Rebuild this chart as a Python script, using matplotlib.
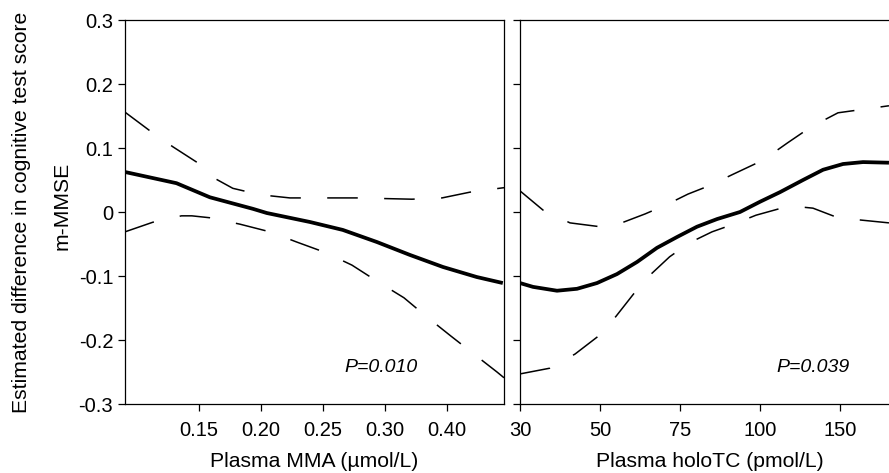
import numpy as np
import matplotlib
matplotlib.use("Agg")
import matplotlib.pyplot as plt

plt.rcParams["font.family"] = ["Liberation Sans", "DejaVu Sans"]
plt.rcParams["lines.scale_dashes"] = False

# --- data ---
# left panel: plasma MMA (umol/L)
mma_x = [0.0905, 0.132, 0.1589, 0.1935, 0.2048, 0.2395, 0.266, 0.2935, 0.340, 0.3935, 0.448, 0.490]
mma_est = [0.0625, 0.045, 0.023, 0.005, -0.0016, -0.0156, -0.028, -0.0469, -0.067, -0.0859, -0.1016, -0.111]
mma_up_x = [0.0905, 0.1105, 0.129, 0.149, 0.1605, 0.1774, 0.1992, 0.2234, 0.250, 0.2774, 0.3435, 0.392, 0.437, 0.4919]
mma_up = [0.156, 0.127, 0.102, 0.077, 0.055, 0.037, 0.027, 0.022, 0.022, 0.022, 0.020, 0.022, 0.031, 0.038]
mma_lo_x = [0.0905, 0.1129, 0.136, 0.1444, 0.1589, 0.1831, 0.2073, 0.2290, 0.2516, 0.2734, 0.2935, 0.3306, 0.3677, 0.4065, 0.4435, 0.4806, 0.4919]
mma_lo = [-0.031, -0.016, -0.006, -0.006, -0.009, -0.019, -0.031, -0.047, -0.063, -0.083, -0.108, -0.134, -0.164, -0.194, -0.222, -0.250, -0.259]
mma_ticks = [0.15, 0.20, 0.25, 0.30, 0.40]
mma_ticklabels = ["0.15", "0.20", "0.25", "0.30", "0.40"]

# right panel: plasma holoTC (pmol/L)
htc_x = [30, 33.25, 39.25, 44.25, 49.25, 55.3, 61.6, 67.8, 74.1, 80.3, 86.6, 93.75, 100, 112.5, 126.9, 139.4, 151.9, 164.4, 180.6]
htc_est = [-0.111, -0.117, -0.123, -0.120, -0.111, -0.097, -0.078, -0.056, -0.039, -0.023, -0.011, 0.000, 0.016, 0.031, 0.050, 0.066, 0.075, 0.078, 0.077]
htc_up_x = [30, 35.75, 42.5, 50, 56.75, 64.1, 70.6, 77.5, 84.1, 91.6, 101.9, 117.2, 131.9, 148.75, 180.6]
htc_up = [0.033, 0.003, -0.017, -0.023, -0.017, -0.003, 0.011, 0.028, 0.041, 0.059, 0.081, 0.108, 0.133, 0.155, 0.166]
htc_lo_x = [30, 37.5, 43.75, 50, 55, 60.5, 65.75, 71.75, 78, 85, 91.75, 98.75, 111.9, 125, 133.1, 148.75, 180.6]
htc_lo = [-0.253, -0.244, -0.222, -0.192, -0.163, -0.128, -0.098, -0.070, -0.048, -0.031, -0.019, -0.005, 0.005, 0.008, 0.006, -0.009, -0.017]
htc_ticks = [30, 50, 75, 100, 150]
htc_ticklabels = ["30", "50", "75", "100", "150"]

yticks = [0.3, 0.2, 0.1, 0, -0.1, -0.2, -0.3]
yticklabels = ["0.3", "0.2", "0.1", "0", "-0.1", "-0.2", "-0.3"]


def make_scale(vals, pos):
    fwd = lambda x: np.interp(x, vals, pos, left=np.nan, right=np.nan)
    inv = lambda u: np.interp(u, pos, vals, left=np.nan, right=np.nan)
    return fwd, inv


# ticks are evenly spaced on the original axes
mma_scale = make_scale([0.0, 0.15, 0.20, 0.25, 0.30, 0.40, 0.60], [-3, 0, 1, 2, 3, 4, 6])
htc_scale = make_scale([0, 30, 50, 75, 100, 150, 250], [-1.5, 0, 1, 2, 3, 4, 6])

fig = plt.figure(figsize=(8.89, 4.73), dpi=100)
ax1 = fig.add_axes([125 / 889, 69 / 473, 379 / 889, 384 / 473])
ax2 = fig.add_axes([520 / 889, 69 / 473, 380 / 889, 384 / 473])

dash = (0, (22, 19))
lw_s, lw_d = 2.7, 1.1

ax1.set_xscale("function", functions=mma_scale)
ax1.plot(mma_x, mma_est, color="black", lw=lw_s, solid_capstyle="butt", solid_joinstyle="round")
ax1.plot(mma_up_x, mma_up, color="black", lw=lw_d, linestyle=dash)
ax1.plot(mma_lo_x, mma_lo, color="black", lw=lw_d, linestyle=dash)
ax1.set_xlim(0.0905, 0.4919)
ax1.set_xticks(mma_ticks)
ax1.set_xticklabels(mma_ticklabels)
ax1.set_xlabel("Plasma MMA (µmol/L)", fontsize=15.2, labelpad=9)
ax1.text(0.297, -0.243, "P=0.010", fontsize=14, style="italic", ha="center", va="center")

ax2.set_xscale("function", functions=htc_scale)
ax2.plot(htc_x, htc_est, color="black", lw=lw_s, solid_capstyle="butt", solid_joinstyle="round")
ax2.plot(htc_up_x, htc_up, color="black", lw=lw_d, linestyle=dash)
ax2.plot(htc_lo_x, htc_lo, color="black", lw=lw_d, linestyle=dash)
ax2.set_xlim(30, 187.5)
ax2.set_xticks(htc_ticks)
ax2.set_xticklabels(htc_ticklabels)
ax2.set_xlabel("Plasma holoTC (pmol/L)", fontsize=15.2, labelpad=9)
ax2.text(133, -0.243, "P=0.039", fontsize=14, style="italic", ha="center", va="center")
ax2.spines["right"].set_visible(False)

for ax in (ax1, ax2):
    ax.set_ylim(-0.3, 0.3)
    ax.set_yticks(yticks)
    for sp in ax.spines.values():
        sp.set_linewidth(0.9)
    ax.tick_params(axis="both", direction="out", length=5, width=0.9, labelsize=14.5)
    ax.tick_params(axis="x", pad=7)
    ax.tick_params(axis="y", pad=3.5)
    ax.minorticks_off()

ax1.set_yticklabels(yticklabels)
ax2.set_yticklabels([])

fig.text(22 / 889, 1 - 212 / 473, "Estimated difference in cognitive test score",
         rotation=90, ha="center", va="center", fontsize=15.2)
fig.text(62 / 889, 1 - 206 / 473, "m-MMSE", rotation=90, ha="center", va="center", fontsize=15.2)

fig.savefig("out.png", dpi=100)
